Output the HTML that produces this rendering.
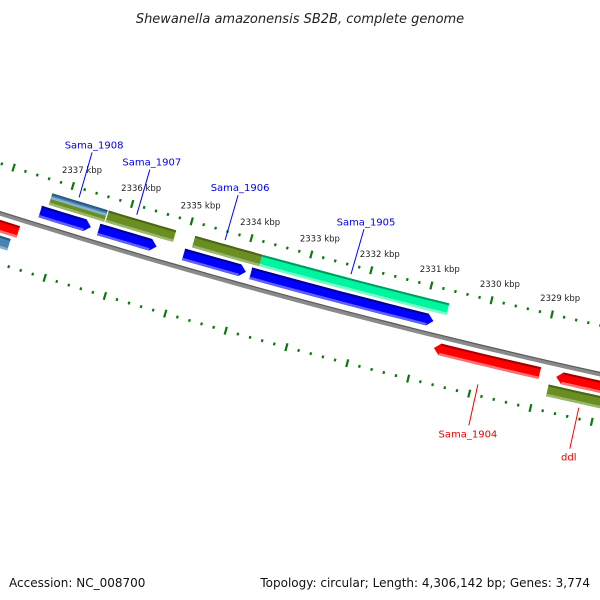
<!DOCTYPE html>
<html><head><meta charset="utf-8"><style>
body{margin:0;background:#fff}
svg{display:block;font-family:"DejaVu Sans","Liberation Sans",sans-serif}
</style></head><body>
<svg id="map" width="600" height="600" viewBox="0 0 600 600" xmlns="http://www.w3.org/2000/svg">
<rect width="600" height="600" fill="#fff"/>
<text x="300" y="23" text-anchor="middle" font-size="13" font-style="italic" fill="#222">Shewanella amazonensis SB2B, complete genome</text>
<g id="ticks"></g>
<g id="backbone"></g>
<g id="features"></g>
<g id="labels"></g>
<text x="9" y="587" font-size="12" fill="#111">Accession: NC_008700</text>
<text x="590" y="587" text-anchor="end" font-size="12" fill="#111">Topology: circular; Length: 4,306,142 bp; Genes: 3,774</text>
</svg>
<script>
// feature data (kbp start, kbp end)
const fwdStarts = [2337.38, 2336.4, 2334.98, 2333.86];
const fwdEnds   = [2336.43, 2335.33, 2333.84, 2330.73];
const revStarts = [2338.6, 2330.72, 2328.71];
const revEnds   = [2337.62, 2328.98, 2327.3];
const cogFwdStarts = [2337.28, 2336.33, 2334.88, 2333.76];
const cogFwdEnds   = [2336.35, 2335.2, 2333.76, 2330.65];
const cogFwdColors = ['olive', 'olive', 'olive', 'teal'];
const cogRevStarts = [2338.6, 2328.8];
const cogRevEnds   = [2337.7, 2327.3];
const cogRevColors = ['steel', 'olive'];
const tickKbp = [2329, 2330, 2331, 2332, 2333, 2334, 2335, 2336, 2337];
const tickLabels = ['2329 kbp','2330 kbp','2331 kbp','2332 kbp','2333 kbp','2334 kbp','2335 kbp','2336 kbp','2337 kbp'];
const geneNames = ['Sama_1908','Sama_1907','Sama_1906','Sama_1905','Sama_1904','ddl'];
const geneKbp = [2336.85, 2335.88, 2334.4, 2332.3, 2329.9, 2328.25];
const geneStrand = [1, 1, 1, 1, -1, -1];

const NS='http://www.w3.org/2000/svg';
const CX=2123, CY=-6507, RB=7047, PHI0=105*Math.PI/180, K=0.00886;
function pt(kbp, off){const a=PHI0+(kbp-2333)*K, r=RB+off;return [CX+r*Math.cos(a), CY+r*Math.sin(a)];}
function mk(tag, attrs, parent){const e=document.createElementNS(NS,tag);for(const k in attrs)e.setAttribute(k,attrs[k]);parent.appendChild(e);return e;}
function arcPts(a,b,off,n){const p=[];for(let i=0;i<=n;i++){p.push(pt(a+(b-a)*i/n,off));}return p;}
function poly(points){return points.map(p=>p[0].toFixed(1)+','+p[1].toFixed(1)).join(' ');}
const COL={blue:['#0000ff','#00008c','#6060ff'],red:['#ff0000','#a00000','#ff7070'],olive:['#6b8e23','#4a6616','#9ab86a'],teal:['#00f5a0','#009a60','#70ffc8'],steel:['#4682b4','#2c5a80','#8ab0d0']};
function band(g,a,b,off,h,col,head){
  const hl=0.1; let a2=a,b2=b;
  if(head==='right')b2=b+hl; if(head==='left')a2=a-hl;
  let top=arcPts(a2,b2,off-h/2,8), bot=arcPts(b2,a2,off+h/2,8);
  let pts=top.slice();
  if(head==='right')pts.push(pt(b,off));
  pts=pts.concat(bot);
  if(head==='left')pts.push(pt(a,off));
  const p=mk('polygon',{points:poly(pts),fill:COL[col][0]},g);
  
  
  const s1=mk('polygon',{points:poly(arcPts(a2,b2,off-h/2,8).concat(arcPts(b2,a2,off-h/2+2,8))),fill:COL[col][1]},g);
  
  
  const s2=mk('polygon',{points:poly(arcPts(a2,b2,off+h/2-2.5,8).concat(arcPts(b2,a2,off+h/2,8))),fill:COL[col][2]},g);
  
  
}
const tg=document.getElementById('ticks');
[-47,49].forEach(off=>{
  for(let t=2326.0;t<=2339.01;t+=0.2){
    const major=Math.abs(t-Math.round(t))<0.01;
    const l=major?4:1.4;
    const p1=pt(t,off-l), p2=pt(t,off+l);
    const ln=mk('line',{x1:p1[0],y1:p1[1],x2:p2[0],y2:p2[1],stroke:'#0a7a0a','stroke-width':2.2},tg);
    
    
  }
});
tickKbp.forEach((k,i)=>{
  const p=pt(k-0.08,-62);
  const t=mk('text',{x:p[0].toFixed(1),y:p[1].toFixed(1),'font-size':8.5,'text-anchor':'middle',fill:'#222'},tg);
  t.textContent=tickLabels[i];
  
  
});
const bg=document.getElementById('backbone');
const bb1=mk('polyline',{points:poly(arcPts(2340,2325,1,30)),fill:'none',stroke:'#8a8a8a','stroke-width':4},bg);


const bb2=mk('polyline',{points:poly(arcPts(2340,2325,-1,30)),fill:'none',stroke:'#5a5a5a','stroke-width':1.2},bg);


const fg=document.getElementById('features');
cogFwdStarts.forEach((s,i)=>{
  if(i===0){band(fg,s,cogFwdEnds[i],-28,12,'olive',null);band(fg,s,cogFwdEnds[i],-31,6,'steel',null);}
  else band(fg,s,cogFwdEnds[i],-28,12,cogFwdColors[i],null);
});
cogRevStarts.forEach((s,i)=>band(fg,s,cogRevEnds[i],28,12,cogRevColors[i],null));
fwdStarts.forEach((s,i)=>band(fg,s,fwdEnds[i]+0.1,-13,12,'blue','right'));
revStarts.forEach((s,i)=>band(fg,s,revEnds[i],13,12,'red',i===0?null:'left'));
const lg=document.getElementById('labels');
geneNames.forEach((n,i)=>{
  const fw=geneStrand[i]>0;
  const col=fw?'#0000ee':'#ee0000';
  const p1=pt(geneKbp[i],fw?-38:38);
  const p2=fw?[p1[0]+13,p1[1]-45]:[p1[0]-9,p1[1]+41];
  const ln=mk('line',{x1:p1[0],y1:p1[1],x2:p2[0],y2:p2[1],stroke:col,'stroke-width':1},lg);
  
  
  const t=mk('text',{x:(p2[0]+(fw?2:-1)).toFixed(1),y:(p2[1]+(fw?-4:12)).toFixed(1),'font-size':10,'text-anchor':'middle',fill:col},lg);
  t.textContent=n;
  
  
});
</script>
</body></html>
